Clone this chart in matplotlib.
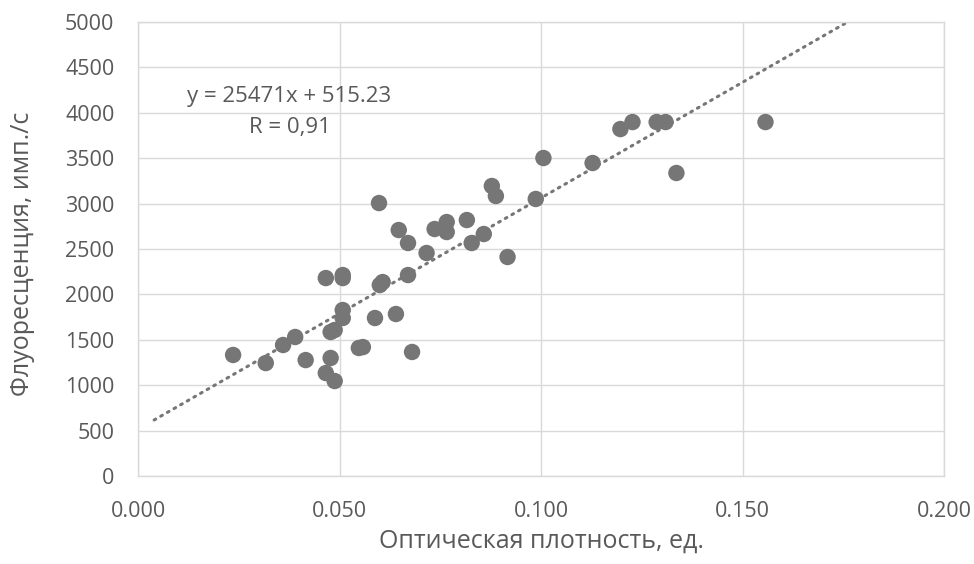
import numpy as np
import matplotlib
matplotlib.use("Agg")
import matplotlib.pyplot as plt

# optical density vs fluorescence
optical_density = [
    0.0236, 0.0317, 0.036, 0.039, 0.0416, 0.0466, 0.0466, 0.0488, 0.0478,
    0.0478, 0.0488, 0.0508, 0.0508, 0.0508, 0.0508, 0.0548, 0.0558, 0.0588,
    0.0598, 0.060, 0.0607, 0.064, 0.0647, 0.067, 0.067, 0.068, 0.0716,
    0.0736, 0.0766, 0.0766, 0.0816, 0.0828, 0.0858, 0.0878, 0.0888, 0.0917,
    0.0987, 0.1006, 0.1128, 0.1197, 0.1227, 0.1287, 0.1309, 0.1336, 0.1557,
]
fluorescence = [
    1333, 1244, 1443, 1531, 1277, 2180, 1134, 1046, 1300,
    1586, 1608, 2213, 2180, 1828, 1740, 1410, 1420, 1740,
    3006, 2103, 2136, 1784, 2709, 2566, 2213, 1366, 2456,
    2720, 2797, 2687, 2819, 2566, 2665, 3194, 3084, 2412,
    3051, 3502, 3447, 3821, 3898, 3898, 3898, 3337, 3898,
]

# linear trendline as reported on the chart
slope = 25471
intercept = 515.23
trend_x = [0.004, 0.176]
eq_text = "y = 25471x + 515.23"
r_text = "R = 0,91"

x_ticks = [0.0, 0.05, 0.1, 0.15, 0.2]
y_ticks = list(range(0, 5001, 500))

text_color = "#595959"
grid_color = "#d9d9d9"
point_color = "#767676"

plt.rcParams["font.family"] = ["Open Sans", "DejaVu Sans"]

fig = plt.figure(figsize=(9.74, 5.64), dpi=100)
ax = fig.add_axes([0.1417, 0.156, 0.8275, 0.805])

ax.scatter(optical_density, fluorescence, s=140, color=point_color,
           edgecolors="none", zorder=3)

tx = np.array(trend_x)
ax.plot(tx, slope * tx + intercept, color=point_color, lw=2.2,
        linestyle=(0, (0.6, 1.9)), dash_capstyle="round", zorder=2)

ax.text(0.0374, 4185, eq_text, ha="center", va="center",
        fontsize=16, color=text_color)
ax.text(0.0377, 3843, r_text, ha="center", va="center",
        fontsize=16, color=text_color)

ax.set_xlim(0, 0.2)
ax.set_ylim(0, 5000)
ax.set_xticks(x_ticks)
ax.set_xticklabels([f"{v:.3f}" for v in x_ticks])
ax.set_yticks(y_ticks)
ax.set_yticklabels([str(v) for v in y_ticks])

ax.grid(True, color=grid_color, lw=1)
ax.set_axisbelow(True)
for sp in ax.spines.values():
    sp.set_color(grid_color)
    sp.set_linewidth(1)
ax.tick_params(length=0, labelsize=15.5, colors=text_color)
ax.tick_params(axis="y", pad=17)
ax.tick_params(axis="x", pad=18)

ax.set_xlabel("Оптическая плотность, ед.", fontsize=18, color=text_color)
ax.set_ylabel("Флуоресценция, имп./с", fontsize=18, color=text_color)
ax.xaxis.set_label_coords(0.5, -0.143)
ax.xaxis.label.set_va("center")
ax.yaxis.set_label_coords(-0.143, 0.49)
ax.yaxis.label.set_va("center")

fig.savefig("out.png", dpi=100)
